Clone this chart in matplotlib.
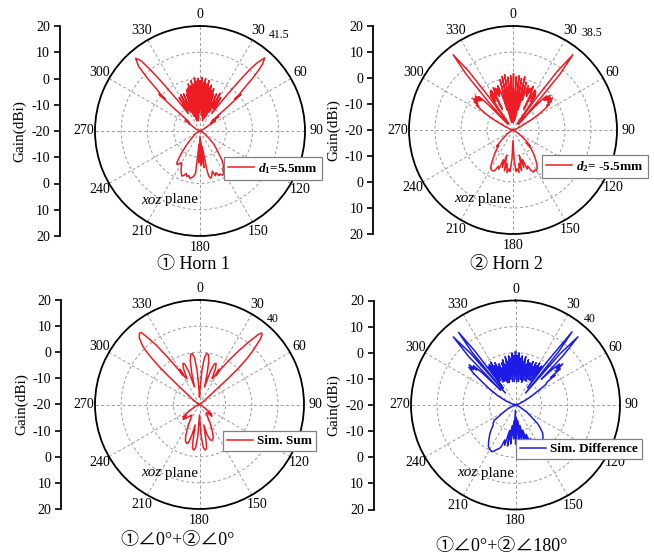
import numpy as np
import matplotlib.pyplot as plt

plt.rcParams['font.family'] = ['Liberation Serif', 'Noto Sans CJK SC', 'DejaVu Sans']
plt.rcParams['mathtext.fontset'] = 'custom'
plt.rcParams['mathtext.it'] = 'Liberation Serif:italic:bold'
plt.rcParams['mathtext.rm'] = 'Liberation Serif:bold'
plt.rcParams['axes.unicode_minus'] = False

# radiation patterns, xoz plane: (theta in deg, clockwise from top, gain in dBi)
horn1 = [
    (0, -1), (1, -12), (2, 0.5), (3, -9), (4, -1.5), (5, -14), (6, 0), (7, -10), (8, -2), (9, -15),
    (10, -0.5), (11, -11), (12, -3), (13, -16), (14, -2), (15, -10), (16, -4), (17, -15), (18, -3),
    (19, -12), (20, -5), (22, -14), (24, -4.5), (26, -12), (28, -3.7), (30, -10), (32, -5), (34, -12),
    (36, -6), (37, -2), (38, 4), (39, 10), (40, 14), (41.5, 17.2), (43, 15), (44, 12), (45, 8), (46, 3),
    (47, 0.5), (47.5, -2), (48, 1), (48.5, -3), (49, -8), (50, -14), (52, -11), (54, -15), (56, -13),
    (58, -17), (65, -19), (80, -19.8), (90, -20),
    (100, -19.8), (110, -19.3), (120, -18), (128, -16), (133, -13), (137, -11), (140, -9), (143, -6),
    (146, -4), (149, -3), (151, -1.5), (153, -1), (155, -2), (157, -1.5), (159, -3), (161, -2), (163, -4),
    (165, -2.5), (167, -1.5), (169, -2.5), (170, -5), (172, -14), (174, -6), (176, -16), (178, -7),
    (180, -18), (182, -8), (184, -15), (186, -4), (188, -2.5), (190, -2), (192, -1.5), (194, -2.5),
    (196, -2), (198, -3), (200, -2), (202, -1.5), (204, -2.5), (206, -3.5), (208, -5), (210, -6),
    (212, -5.5), (214, -4.5), (216, -5), (218, -7), (220, -9), (223, -12), (226, -14), (230, -16),
    (240, -18), (255, -19.5), (270, -20),
    (285, -19.5), (295, -18.5), (302, -17), (306, -13), (308, -15), (310, -14), (311, -8), (311.5, -3),
    (312, 1), (312.5, -2), (313, 0.5), (314, 3), (315, 8), (316.5, 14), (318.5, 17), (320, 15), (321, 10),
    (322, 4), (323, -2), (324, -6), (326, -12), (328, -5), (330, -11), (332, -4.3), (334, -12),
    (336, -4.5), (338, -14), (340, -5), (341, -11), (342, -3.5), (343, -16), (344, -3), (345, -10),
    (346, -1.5), (347, -15), (348, -2.5), (349, -12), (350, -0.5), (351, -16), (352, -2), (353, -11),
    (354, 0.5), (355, -15), (356, -1), (357, -10), (358, 0), (359, -13),
]

horn2 = [
    (0.5, 1.5), (2, -16), (3.5, 0.5), (5, -17), (6.5, 1), (8, -15), (9.5, 0), (11, -16), (12.5, 1),
    (14, -12), (15.5, -1), (17, -8), (18, -4), (19, -2), (20, -5), (21, -3), (22, -6), (23, -2.5),
    (24, -4), (25, -1.5), (26, -4), (27, -11), (28, -5), (29, -2.5), (30, -6), (31, -3), (32, -7),
    (33, -4), (34, -9), (35, -17), (36, -5), (37, 8), (38.5, 17), (40, 8), (41, -5), (42, -17), (43, -8),
    (44, -3), (45, -1.5), (46, -3.5), (47, -0.5), (48, -3), (49, -1), (50, -2.5), (51, -0.5), (52, -3),
    (53, -1.5), (54, -4), (55, -3), (57, -6), (59, -9), (61, -12), (63, -15), (66, -17), (75, -19),
    (90, -20), (110, -19.5), (120, -18.5), (126, -16), (130, -13), (133, -11), (134, -13), (136, -10),
    (139, -8), (142, -6), (145, -4), (148, -2.5), (150, -2), (152, -2.5), (154, -2), (156, -3), (158, -5),
    (160, -4), (162, -8), (164, -5), (166, -10), (168, -4), (170, -7), (172, -3.5), (174, -5), (176, -4),
    (178, -9), (180, -16), (182, -9), (184, -4), (186, -5), (188, -3.5), (190, -7), (192, -4), (194, -10),
    (196, -5), (198, -8), (200, -4), (202, -5), (204, -3), (206, -2.5), (208, -2.5), (210, -3), (212, -4),
    (214, -6), (217, -8), (220, -10), (223, -12), (225, -11), (227, -13), (230, -15), (235, -17),
    (245, -19), (260, -19.8), (270, -20), (285, -19), (293, -17), (296, -15), (298, -12), (300, -9),
    (302, -6), (304, -3), (305, -4), (306, -1.5), (307, -3), (308, -0.5), (309, -2.5), (310, -1),
    (311, -3), (312, -0.5), (313, -3.5), (314, -1.5), (315, -3), (316, -8), (318, -17), (319, -5),
    (320, 8), (321.5, 17), (323, 8), (324, -5), (325, -17), (326, -9), (327, -4), (328, -7), (329, -3),
    (330, -6), (331, -2.5), (332, -5), (333, -11), (334, -4), (335, -2), (336, -5), (337, -2.5), (338, -6),
    (339, -3), (340, -5), (341, -2), (342, -4), (343, -8), (344, -12), (345.5, 0), (347, -16), (348.5, 1),
    (350, -17), (351.5, 1.5), (353, -15), (354.5, 0.5), (356, -17), (357.5, 1), (359, -14),
]

sim_sum = [
    (0, -17), (2, -14), (4, -7), (6, -2), (8, -0.3), (10, -0.5), (12, -3), (14, -8), (16, -13), (18, -7),
    (20, -3.5), (22, -3), (24, -5), (26, -9), (28, -8), (29, -4.5), (30, -7), (31, -4), (32, -3), (34, 1),
    (36, 5), (38, 10), (40, 15), (41, 16.3), (42, 15.8), (43, 14), (44, 11), (45, 8.5), (46, 5), (47, 0),
    (47.5, -4), (48, -10), (49, -15), (52, -18), (60, -19.5), (90, -20), (110, -19.5), (120, -18.5),
    (126, -16.5), (129, -14), (131, -15.5), (133, -13.5), (136, -15), (140, -16), (145, -15), (150, -12),
    (154, -9), (157, -6.5), (160, -5.5), (163, -5.8), (166, -8), (168, -12), (170, -5), (171, -3),
    (173, -2.4), (175, -3.5), (177, -8), (180, -16), (183, -8), (185, -3.5), (187, -2.4), (189, -3),
    (190, -5), (192, -12), (194, -8), (196, -5), (198, -4.3), (201, -5), (204, -7), (207, -10), (211, -13),
    (216, -15), (221, -14), (225, -12.5), (228, -11.5), (230, -13.5), (233, -12), (237, -15), (245, -18),
    (255, -19.5), (270, -20), (290, -19.5), (300, -19), (306, -17), (310, -14), (311.5, -10), (312.5, -4),
    (313, 0), (314, 5), (315, 9), (316, 11.5), (318, 14.5), (320, 15.7), (321, 15.5), (322, 13), (324, 8),
    (326, 2), (328, -3), (329, -4.5), (330, -7), (331, -4.5), (332, -8), (334, -9), (336, -5), (338, -3),
    (340, -3.5), (342, -7), (344, -13), (346, -8), (348, -3), (350, -0.5), (352, -0.3), (354, -2),
    (356, -7), (358, -14),
]

sim_diff = [
    (0, 0.4), (1, -10), (2, -1), (3, -11), (4, 0), (5, -8), (6, -2), (7, -11), (8, -1), (9, -8),
    (10, -3), (11, -10), (12, -1), (13, -8), (14, -4), (15, -11), (16, -2), (17, -8), (18, -3), (19, -10),
    (20, -3), (21, -8), (22, -2), (23, -10), (24, -4), (25, -7), (26, -2), (27, -9), (28, -3), (29, -7),
    (30, -1.5), (31, -9), (32, -3), (33, -7), (34, -2), (35, -12), (36, 0), (37.7, 15.4), (39, 6),
    (40, -14), (41, 6), (42.5, 15.4), (44, 6), (45, -6), (46, 0), (47, 3), (48, 1), (49, 4), (50, 0),
    (51, 2), (52, -3), (53, -1), (54, -5), (56, -6), (58, -10), (61, -13), (65, -16), (72, -18.5),
    (85, -19.8), (90, -20), (105, -19.5), (115, -18), (122, -15), (126, -13), (130, -9), (133, -7),
    (136, -5), (139, -4), (142, -3), (145, -2.5), (148, -3), (150, -2), (152, -4), (154, -2.5), (156, -6),
    (158, -3), (160, -8), (162, -4), (164, -10), (166, -3), (168, -12), (170, -4), (172, -14), (174, -5),
    (176, -15), (178, -6), (180, -5), (181, -18), (183, -7), (185, -14), (187, -5), (189, -12), (191, -4),
    (193, -10), (195, -4), (197, -6), (199, -3), (201, -2), (203, -1.5), (205, -0.5), (207, 0), (209, -0.2),
    (211, -0.5), (213, -1), (215, -2), (217, -3), (219, -4), (222, -5.4), (225, -7), (228, -8.5),
    (231, -9), (234, -10), (238, -14), (245, -17), (255, -19.5), (270, -20), (285, -19), (293, -16),
    (298, -12), (302, -8), (305, -4), (307, 0), (309, 3), (310, 1), (311, 3.5), (312, 0), (313, 2),
    (314, -2), (315, -12), (316, 6), (317.6, 15.3), (319, 6), (319.8, -14), (320.5, 6), (321.9, 15.3),
    (323, 6), (324, -12), (325, -2), (326, -8), (327, -1.5), (328, -9), (329, -3), (330, -1), (331, -8),
    (332, -3), (333, -10), (334, -2), (335, -8), (336, -4), (337, -10), (338, -3), (339, -8), (340, -5),
    (341, -11), (342, -3), (343, -8), (344, -2), (345, -11), (346, -4), (347, -9), (348, -1), (349, -10),
    (350, -3), (351, -8), (352, -1), (353, -11), (354, -2), (355, -8), (356, 0), (357, -11), (358, -1),
    (359, -9),
]

angle_ticks = [0, 30, 60, 90, 120, 150, 180, 210, 240, 270, 300, 330]
angle_labels = ['0', '30', '60', '90', '120', '150', '180', '210', '240', '270', '300', '330']
gain_pos = [40, 30, 20, 10, 0, -10, -20, -30, -40]
gain_labels = ['20', '10', '0', '-10', '-20', '-10', '0', '10', '20']
ring_levels = [-10, 0, 10]

labels = [r'$d_1$=5.5mm', r'$d_2$= -5.5mm', 'Sim. Sum', 'Sim. Difference']
beam_notes = ['41.5', '38.5', '40', '40']
subtitles = ['① Horn 1', '② Horn 2', '①∠0°+②∠0°', '①∠0°+②∠180°']
patterns = [horn1, horn2, sim_sum, sim_diff]
colors = ['#ee1c24', '#ee1c24', '#ee1c24', '#1c1ce6']

W, H = 654, 557
fig = plt.figure(figsize=(W / 100, H / 100), dpi=100)


def rect(x0, y0, w, h):
    return [x0 / W, 1 - (y0 + h) / H, w / W, h / H]


# layout in pixels: centre, radius, gain-axis x, legend top-left, beam note, 'xoz' text, subtitle
layout = [
    dict(c=(200, 131), r=105, gx=59.5, leg=(224, 157), note=(279, 35), xoz=(161, 200), sub=(193, 265)),
    dict(c=(513, 130), r=104, gx=373, leg=(542, 155), note=(592, 33), xoz=(474, 199), sub=(506, 265)),
    dict(c=(199.5, 404.5), r=104.5, gx=61, leg=(223, 431), note=(273, 319), xoz=(161, 473), sub=(178, 540)),
    dict(c=(515.5, 405), r=104.5, gx=373.5, leg=(516, 439), note=(590, 319), xoz=(477, 473), sub=(502, 546)),
]

for pat, col, lab, note, sub, lo in zip(patterns, colors, labels, beam_notes, subtitles, layout):
    cx, cy = lo['c']
    r = lo['r']
    ang, gain = np.array(pat + [pat[0]]).T
    ang[-1] += 360

    ax = fig.add_axes(rect(cx - r, cy - r, 2 * r, 2 * r), projection='polar')
    ax.set_theta_zero_location('N')
    ax.set_theta_direction(-1)
    ax.plot(np.deg2rad(ang), gain, color=col, lw=1.1, label=lab)
    ax.set_ylim(-20, 20)
    ax.set_yticks(ring_levels)
    ax.set_yticklabels([])
    ax.set_xticks(np.deg2rad(angle_ticks))
    ax.set_xticklabels(angle_labels, fontsize=10)
    ax.tick_params(axis='x', pad=-2, direction='inout', length=6, width=1)
    ax.grid(True, color='#9a9a9a', linestyle='--', linewidth=0.7, dashes=(3, 2.5))
    ax.spines['polar'].set_linewidth(1.3)

    leg = ax.legend(loc='upper left', bbox_to_anchor=(lo['leg'][0] / W, 1 - lo['leg'][1] / H),
                    bbox_transform=fig.transFigure, fancybox=False, framealpha=1,
                    edgecolor='#808080', handlelength=2.0, handletextpad=0.3,
                    borderpad=0.3, borderaxespad=0, prop={'weight': 'bold', 'size': 9.5})
    leg.get_frame().set_linewidth(0.9)

    fig.text(lo['note'][0] / W, 1 - lo['note'][1] / H, note, fontsize=8.5, ha='center', va='center')
    fig.text(lo['xoz'][0] / W, 1 - lo['xoz'][1] / H, 'xoz', fontsize=11, style='italic',
             ha='right', va='center')
    fig.text(lo['xoz'][0] / W, 1 - lo['xoz'][1] / H, ' plane', fontsize=11, ha='left', va='center')
    fig.text(lo['sub'][0] / W, 1 - lo['sub'][1] / H, sub, fontsize=13, ha='center', va='center')

    # separate gain scale on the left
    gx = fig.add_axes(rect(lo['gx'], cy - r, 1, 2 * r))
    gx.set_ylim(-40, 40)
    gx.set_yticks(gain_pos)
    gx.set_yticklabels(gain_labels, fontsize=10)
    gx.set_xticks([])
    for side in ['top', 'right', 'bottom']:
        gx.spines[side].set_visible(False)
    gx.spines['left'].set_linewidth(1.3)
    gx.tick_params(axis='y', direction='out', length=4, width=1.2, pad=3)
    gx.patch.set_visible(False)
    gx.set_ylabel('Gain(dBi)', fontsize=11)
    gx.yaxis.set_label_coords((lo['gx'] - 33) / W, 1 - cy / H, transform=fig.transFigure)

fig.savefig('out.png', dpi=100)
